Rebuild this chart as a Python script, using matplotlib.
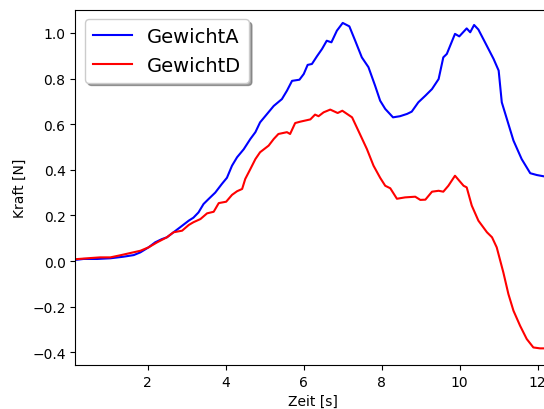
import matplotlib
matplotlib.use("Agg")
import matplotlib.pyplot as plt

# Zeit [s] und Kraft [N]
t_a = [0.15, 0.35, 0.70, 1.04, 1.38, 1.64, 1.81, 2.02, 2.19, 2.36, 2.49, 2.66, 2.83,
       3.05, 3.17, 3.30, 3.43, 3.56, 3.73, 3.90, 4.03, 4.16, 4.29, 4.46, 4.63, 4.76,
       4.88, 5.06, 5.23, 5.44, 5.57, 5.70, 5.89, 6.00, 6.10, 6.21, 6.34, 6.47, 6.59,
       6.71, 6.85, 7.00, 7.17, 7.32, 7.49, 7.66, 7.83, 7.96, 8.09, 8.29, 8.47, 8.65,
       8.77, 8.94, 9.12, 9.29, 9.46, 9.58, 9.67, 9.88, 9.99, 10.18, 10.27, 10.37,
       10.48, 10.65, 10.87, 11.00, 11.08, 11.38, 11.59, 11.81, 11.98, 12.17, 12.40]
gewicht_a = [0.005, 0.009, 0.009, 0.012, 0.019, 0.026, 0.038, 0.060, 0.082, 0.096,
             0.104, 0.126, 0.148, 0.177, 0.190, 0.213, 0.250, 0.272, 0.300, 0.338,
             0.365, 0.418, 0.455, 0.490, 0.535, 0.565, 0.608, 0.645, 0.680, 0.710,
             0.747, 0.790, 0.795, 0.820, 0.860, 0.864, 0.898, 0.930, 0.966, 0.959,
             1.010, 1.044, 1.029, 0.966, 0.893, 0.850, 0.769, 0.703, 0.667, 0.630,
             0.635, 0.645, 0.655, 0.696, 0.725, 0.754, 0.798, 0.893, 0.908, 0.996,
             0.985, 1.020, 1.003, 1.035, 1.015, 0.959, 0.886, 0.835, 0.696, 0.528,
             0.447, 0.385, 0.377, 0.371, 0.370]

t_d = [0.15, 0.53, 0.78, 1.04, 1.29, 1.55, 1.81, 2.02, 2.24, 2.49, 2.66, 2.88, 3.05,
       3.17, 3.35, 3.52, 3.69, 3.82, 4.01, 4.16, 4.29, 4.42, 4.50, 4.63, 4.76, 4.88,
       5.10, 5.23, 5.35, 5.57, 5.65, 5.78, 5.91, 6.17, 6.29, 6.38, 6.51, 6.68, 6.87,
       6.99, 7.24, 7.41, 7.62, 7.79, 7.96, 8.09, 8.22, 8.39, 8.60, 8.86, 8.99, 9.12,
       9.29, 9.46, 9.58, 9.71, 9.88, 10.10, 10.18, 10.31, 10.48, 10.70, 10.83, 10.95,
       11.12, 11.25, 11.38, 11.55, 11.72, 11.89, 12.06, 12.40]
gewicht_d = [0.008, 0.013, 0.016, 0.016, 0.025, 0.035, 0.045, 0.060, 0.082, 0.104,
             0.126, 0.133, 0.158, 0.170, 0.184, 0.209, 0.216, 0.254, 0.260, 0.290,
             0.306, 0.316, 0.360, 0.403, 0.447, 0.477, 0.506, 0.535, 0.557, 0.565,
             0.557, 0.605, 0.611, 0.621, 0.642, 0.635, 0.652, 0.664, 0.649, 0.659,
             0.630, 0.568, 0.491, 0.418, 0.365, 0.330, 0.319, 0.273, 0.279, 0.282,
             0.268, 0.269, 0.304, 0.308, 0.304, 0.330, 0.374, 0.330, 0.323, 0.243,
             0.177, 0.126, 0.104, 0.060, -0.050, -0.145, -0.218, -0.284, -0.342,
             -0.379, -0.383, -0.383]

fig = plt.figure(figsize=(5.44, 4.10), dpi=100)
# Achse ragt rechts ueber das Bild hinaus (Original war abgeschnitten)
ax = fig.add_axes([0.1384, 0.1073, 0.875, 0.8666])

ax.plot(t_a, gewicht_a, color='blue', label='GewichtA')
ax.plot(t_d, gewicht_d, color='red', label='GewichtD')

ax.set_xlim(0.14, 12.35)
ax.set_ylim(-0.456, 1.102)
ax.set_xlabel("Zeit [s]")
ax.set_ylabel("Kraft [N]")
ax.legend(loc='upper left', fontsize=14, shadow=True)

fig.savefig('out.png', dpi=100)
